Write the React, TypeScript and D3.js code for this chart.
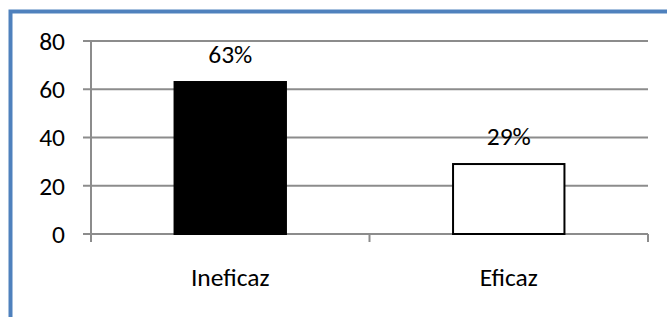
import { useEffect, useRef } from "react";
import * as d3 from "d3";

const categories = ["Ineficaz", "Eficaz"];
const values = [63, 29];
const valueLabels = ["63%", "29%"];
const barFills = ["#000000", "#ffffff"];
const yTicks = [0, 20, 40, 60, 80];

const App = () => {
  const svgRef = useRef<SVGSVGElement>(null);

  useEffect(() => {
    const w = 667;
    const h = 317;
    const svg = d3.select(svgRef.current).attr("width", w).attr("height", h);
    svg.selectAll("*").remove();

    const font = "Carlito, 'Open Sans', 'Noto Sans', sans-serif";
    const fs = 25.5;

    // outer frame
    svg
      .append("rect")
      .attr("x", 10.5)
      .attr("y", 11.5)
      .attr("width", 700)
      .attr("height", 400)
      .attr("fill", "#fff")
      .attr("stroke", "#4f81bd")
      .attr("stroke-width", 4);

    // plot area
    const left = 91;
    const right = 648;
    const top = 41;
    const bottom = 234;

    const x = d3.scaleBand().domain(categories).range([left, right]).paddingInner(0.6).paddingOuter(0.3);
    const y = d3.scaleLinear().domain([0, 80]).range([bottom, top]);

    // gridlines
    svg
      .append("g")
      .selectAll("line")
      .data(yTicks)
      .join("line")
      .attr("x1", left - 8)
      .attr("x2", right)
      .attr("y1", (d) => y(d))
      .attr("y2", (d) => y(d))
      .attr("stroke", "#8c8c8c")
      .attr("stroke-width", 2);

    // y axis line
    svg
      .append("line")
      .attr("x1", left)
      .attr("x2", left)
      .attr("y1", top)
      .attr("y2", bottom + 8)
      .attr("stroke", "#8c8c8c")
      .attr("stroke-width", 2);

    // category ticks
    const tickXs = [left, (left + right) / 2, right];
    svg
      .append("g")
      .selectAll("line")
      .data(tickXs)
      .join("line")
      .attr("x1", (d) => d)
      .attr("x2", (d) => d)
      .attr("y1", bottom)
      .attr("y2", bottom + 8)
      .attr("stroke", "#8c8c8c")
      .attr("stroke-width", 2);

    // y labels
    svg
      .append("g")
      .selectAll("text")
      .data(yTicks)
      .join("text")
      .attr("x", 65)
      .attr("y", (d) => y(d))
      .attr("dy", "0.35em")
      .attr("text-anchor", "end")
      .attr("font-family", font)
      .attr("font-size", fs)
      .text((d) => d);

    // bars
    svg
      .append("g")
      .selectAll("rect")
      .data(values)
      .join("rect")
      .attr("x", (d, i) => x(categories[i])!)
      .attr("y", (d) => y(d))
      .attr("width", x.bandwidth())
      .attr("height", (d) => bottom - y(d))
      .attr("fill", (d, i) => barFills[i])
      .attr("stroke", "#000")
      .attr("stroke-width", 2);

    // value labels
    svg
      .append("g")
      .selectAll("text")
      .data(values)
      .join("text")
      .attr("x", (d, i) => x(categories[i])! + x.bandwidth() / 2)
      .attr("y", (d) => y(d) - 19)
      .attr("text-anchor", "middle")
      .attr("font-family", font)
      .attr("font-size", fs)
      .text((d, i) => valueLabels[i]);

    // category labels
    svg
      .append("g")
      .selectAll("text")
      .data(categories)
      .join("text")
      .attr("x", (d) => x(d)! + x.bandwidth() / 2)
      .attr("y", 286)
      .attr("text-anchor", "middle")
      .attr("font-family", font)
      .attr("font-size", fs)
      .text((d) => d);
  }, []);

  return <svg ref={svgRef} style={{ position: "absolute", left: 0, top: 0, display: "block" }}></svg>;
};

export default App;
